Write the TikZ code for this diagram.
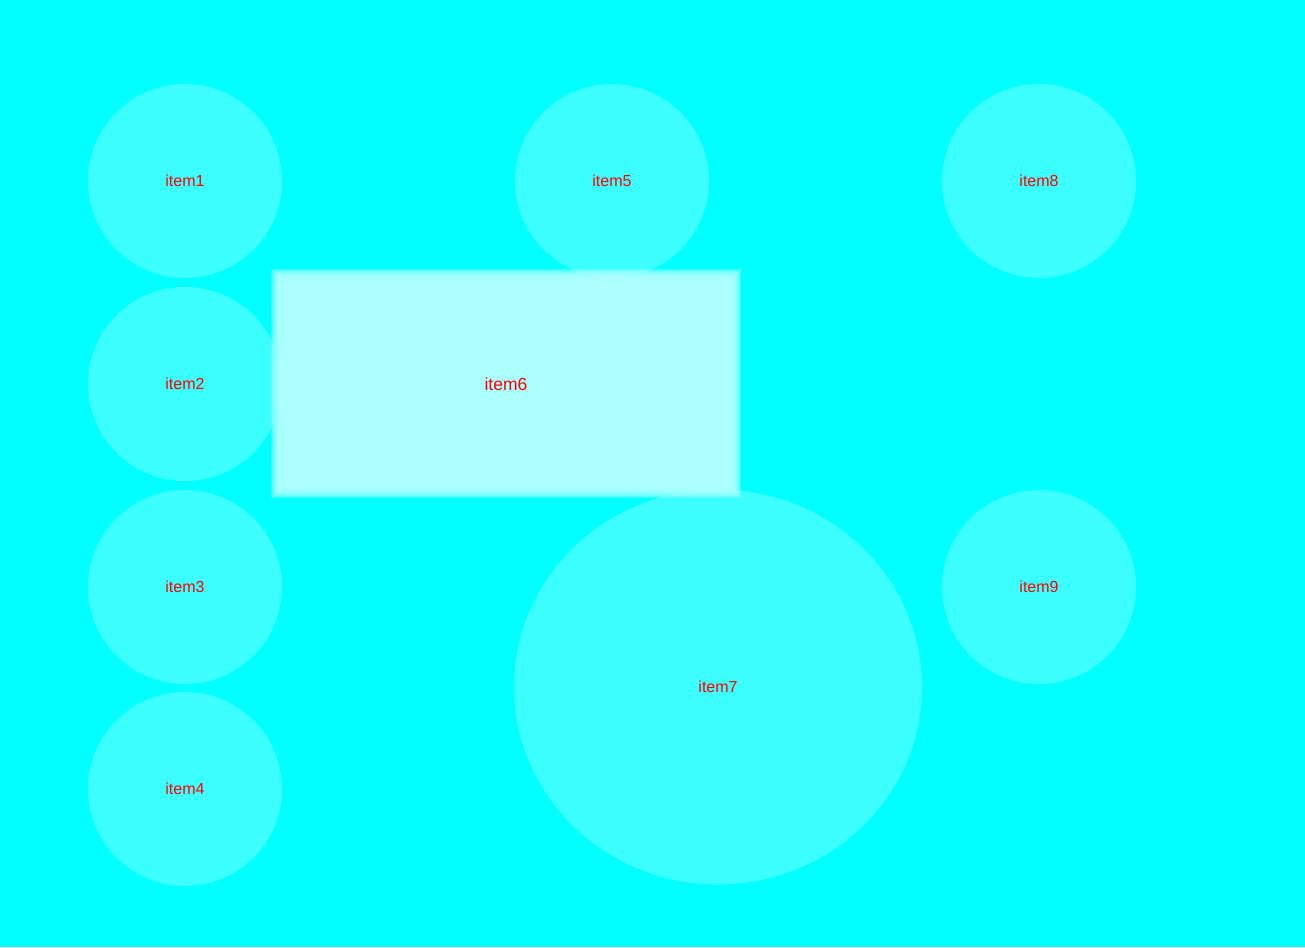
\documentclass[tikz,border=0pt]{standalone}
\usepackage{fontspec}
\setmainfont{Liberation Sans}
\usetikzlibrary{shapes.geometric}

\definecolor{bgcyan}{RGB}{0,255,255}
\definecolor{itemfill}{RGB}{60,255,255}
\definecolor{boxfill}{RGB}{176,255,255}
\definecolor{itemtext}{RGB}{255,0,0}

\tikzset{
    item/.style={circle, fill=itemfill, minimum size=194pt, inner sep=0pt,
        text=itemtext, font=\fontsize{16}{19}\selectfont},
    bigitem/.style={ellipse, fill=itemfill, minimum width=408pt, minimum height=395pt,
        inner sep=0pt, text=itemtext, font=\fontsize{16}{19}\selectfont},
    boxlabel/.style={text=itemtext, font=\fontsize{17.5}{21}\selectfont}
}

\begin{document}
\begin{tikzpicture}[x=1pt, y=1pt]
                % Background
                \fill[bgcyan] (0,0) rectangle (1305,947);
                \useasboundingbox (0,0) rectangle (1305,947);

                % Left column
                \node[item] (item1) at (185,766) {item1};
                \node[item] (item2) at (185,563) {item2};
                \node[item] (item3) at (185,360) {item3};
                \node[item] (item4) at (185,158) {item4};

                % Middle column
                \node[item] (item5) at (612,766) {item5};
                \node[bigitem] (item7) at (718,260) {item7};

                % Right column
                \node[item] (item8) at (1039,766) {item8};
                \node[item] (item9) at (1039,360) {item9};

                % Soft-edged box
                \foreach \d in {-7,...,5}
                    \fill[boxfill, fill opacity=0.28] (276-\d,454-\d) rectangle (736+\d,673+\d);
                \node[boxlabel] (item6) at (506,563) {item6};

            \end{tikzpicture}
\end{document}
